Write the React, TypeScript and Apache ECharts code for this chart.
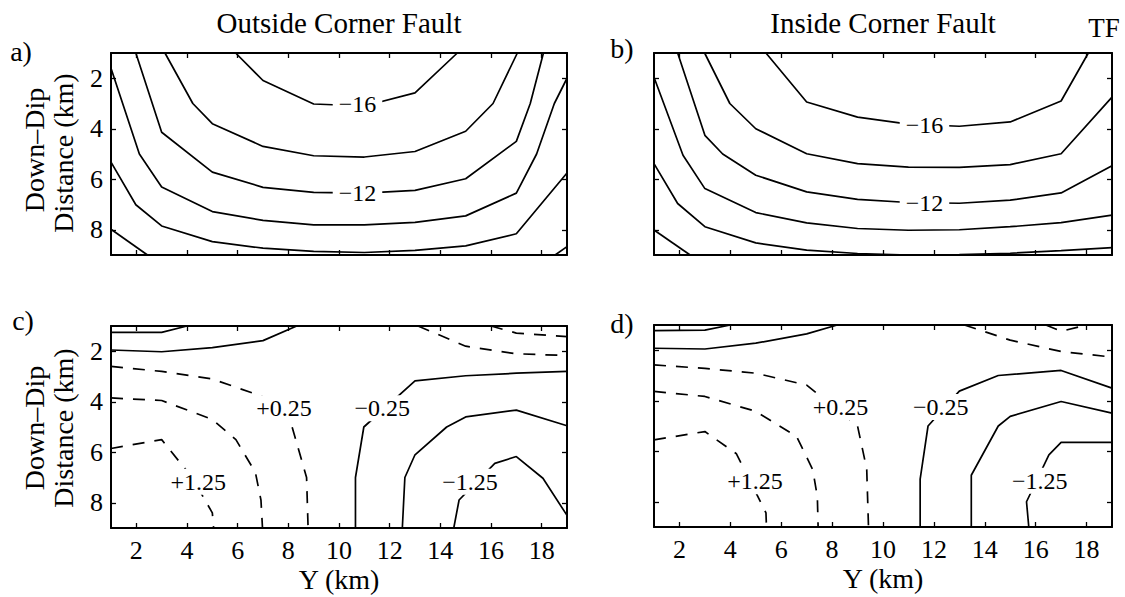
import React, { useEffect, useRef } from "react";
import * as echarts from "echarts";

const FONT = '"Liberation Serif", "Times New Roman", Times, serif';

// Tick values
const X_TICKS = [2, 4, 6, 8, 10, 12, 14, 16, 18];
const Y_TICKS = [2, 4, 6, 8];

// Panel titles
const TITLES = ["Outside Corner Fault", "Inside Corner Fault"];
const PANEL_LETTERS = ["a)", "b)", "c)", "d)"];

// ---- Panel a (Outside corner, total) contour lines [Y km, down-dip km]
const A_M16 = [[5.92, 1], [7, 2.09], [9, 3.02], [11, 3.1], [13, 2.58], [14.67, 1]];
const A_M14 = [[3.13, 1], [4.23, 3], [5, 3.8], [7, 4.7], [9, 5.07], [11, 5.12], [13, 4.9], [15, 4.1], [16.08, 3], [17.04, 1]];
const A_M12 = [[1.98, 1], [3, 4.14], [5, 5.72], [7, 6.32], [9, 6.52], [11, 6.55], [13, 6.44], [15, 5.98], [17, 4.5], [17.55, 3], [18.07, 1]];
const A_M10 = [[1, 1.6], [2.12, 5], [3, 6.31], [5, 7.28], [7, 7.63], [9, 7.81], [11, 7.81], [13, 7.71], [15, 7.45], [17, 6.55], [17.8, 5], [18.5, 3], [19, 2.0]];
const A_M8 = [[1, 5.32], [1.98, 7.01], [3, 7.85], [5, 8.47], [7, 8.73], [9, 8.86], [11, 8.9], [13, 8.82], [15, 8.64], [17, 8.16], [19, 5.75]];
const A_M6L = [[1, 7.98], [2.44, 9]];
const A_M6R = [[18.53, 9], [19, 8.67]];
const A_LABELS = [{ text: "\u221216", at: [10.73, 3.02] }, { text: "\u221212", at: [10.73, 6.55] }];

// ---- Panel b (Inside corner, total)
const B_M16 = [[5.4, 1], [7, 2.94], [9, 3.54], [11, 3.82], [13, 3.9], [15, 3.73], [17, 2.9], [18.07, 1]];
const B_M14 = [[2.99, 1], [3.98, 3], [5, 4.0], [7, 4.99], [9, 5.38], [11, 5.52], [13, 5.53], [15, 5.42], [17, 4.99], [19, 2.75]];
const B_M12 = [[1.93, 1], [3, 4.26], [3.7, 5], [5, 5.84], [7, 6.5], [9, 6.8], [11, 6.92], [13, 6.95], [15, 6.83], [17, 6.54], [19, 5.47]];
const B_M10 = [[1, 1.96], [2.14, 5.05], [3, 6.37], [5, 7.32], [7, 7.73], [9, 7.95], [11, 8.02], [13, 8.0], [15, 7.88], [17, 7.72], [19, 7.42]];
const B_M8 = [[1, 5.38], [1.93, 6.96], [3, 7.88], [5, 8.52], [7, 8.81], [9, 8.94], [11, 9.0], [13, 8.98], [15, 8.93], [17, 8.83], [19, 8.71]];
const B_M6 = [[1, 8.01], [2.42, 9]];
const B_LABELS = [{ text: "\u221216", at: [11.63, 3.87] }, { text: "\u221212", at: [11.63, 6.96] }];

// ---- Panel c (Outside corner, difference)
const C_S1 = [[1, 1.25], [3, 1.25], [4, 1]];
const C_S2 = [[1, 1.95], [3, 2.02], [5, 1.86], [7, 1.58], [8.33, 1]];
const C_M025 = [[10.65, 9], [10.65, 7], [10.98, 5], [13, 3.17], [15, 2.97], [17, 2.87], [19, 2.8]];
const C_M075 = [[12.5, 9], [12.6, 7], [13, 6.1], [14.25, 5], [15, 4.6], [17, 4.33], [19, 4.95]];
const C_M125 = [[14.53, 9], [14.74, 7.89], [16.15, 6.44], [17, 6.17], [18.05, 7.03], [19, 8.5]];
const C_P025 = [[1, 2.6], [3, 2.8], [5, 3.1], [7, 3.8], [8.15, 5], [8.72, 7], [8.78, 9]];
const C_P075 = [[1, 3.85], [3, 3.95], [5, 4.7], [5.93, 5.5], [6.7, 6.8], [6.92, 7.9], [6.98, 9]];
const C_P125 = [[1, 5.85], [3, 5.5], [4.2, 7], [5, 8.4], [5.05, 9]];
const C_PT1 = [[13.12, 1], [15, 1.8], [17, 2.1], [19, 2.17]];
const C_PT2 = [[16, 1], [17, 1.28], [19, 1.42]];
const C_LABELS = [
  { text: "+0.25", at: [7.83, 4.26] },
  { text: "\u22120.25", at: [11.71, 4.26] },
  { text: "+1.25", at: [4.44, 7.17] },
  { text: "\u22121.25", at: [15.17, 7.17] },
];

// ---- Panel d (Inside corner, difference)
const D_S1 = [[1, 1.22], [3, 1.2], [4, 1]];
const D_S2 = [[1, 1.92], [3, 1.95], [5, 1.72], [7, 1.35], [8.2, 1]];
const D_M025 = [[11.46, 9], [11.46, 7.1], [11.77, 5], [13, 3.62], [14.53, 3], [17, 2.8], [19, 3.5]];
const D_M075 = [[13.47, 9], [13.47, 6.95], [14.53, 5], [15, 4.62], [17, 4.03], [19, 4.49]];
const D_M125 = [[15.73, 9], [15.64, 8], [16.52, 6.14], [17, 5.65], [19, 5.65]];
const D_P025 = [[1, 2.58], [3, 2.72], [5, 2.91], [7, 3.38], [9, 5], [9.36, 6.7], [9.43, 9]];
const D_P075 = [[1, 3.63], [3, 3.83], [5, 4.42], [6.6, 5.41], [7.24, 6.73], [7.42, 7.8], [7.45, 9]];
const D_P125 = [[1, 5.55], [3, 5.22], [4.24, 6.1], [5.4, 8.44], [5.42, 9]];
const D_PT1 = [[13.2, 1], [15, 1.6], [17, 2.05], [19, 2.27]];
const D_PT2 = [[16.4, 1], [17, 1.25], [18, 1]];
const D_LABELS = [
  { text: "+0.25", at: [8.33, 4.25] },
  { text: "\u22120.25", at: [12.27, 4.25] },
  { text: "+1.25", at: [4.97, 7.19] },
  { text: "\u22121.25", at: [16.16, 7.17] },
];

const PANELS = [
  { solid: [A_M16, A_M14, A_M12, A_M10, A_M8, A_M6L, A_M6R], dashed: [], labels: A_LABELS },
  { solid: [B_M16, B_M14, B_M12, B_M10, B_M8, B_M6], dashed: [], labels: B_LABELS },
  { solid: [C_S1, C_S2, C_M025, C_M075, C_M125], dashed: [C_P025, C_P075, C_P125, C_PT1, C_PT2], labels: C_LABELS },
  { solid: [D_S1, D_S2, D_M025, D_M075, D_M125], dashed: [D_P025, D_P075, D_P125, D_PT1, D_PT2], labels: D_LABELS },
];

const GRIDS = [
  { left: 111, top: 53, width: 456, height: 202 },
  { left: 654, top: 53, width: 458, height: 202 },
  { left: 111, top: 326, width: 456, height: 202 },
  { left: 654, top: 325, width: 458, height: 202 },
];

function buildOption() {
  const xAxes: any[] = [];
  const yAxes: any[] = [];
  const series: any[] = [];
  const axisLine = { show: true, onZero: false, lineStyle: { color: "#000", width: 2 } };
  const tickStyle = { color: "#000", width: 1.3 };
  GRIDS.forEach((g, i) => {
    const bottomRow = i >= 2;
    const leftCol = i % 2 === 0;
    xAxes.push({
      gridIndex: i, type: "value", min: 1, max: 19, position: "bottom",
      axisLine,
      axisTick: { show: true, inside: true, length: 5, customValues: X_TICKS, lineStyle: tickStyle },
      axisLabel: {
        show: bottomRow, customValues: X_TICKS, margin: 9, color: "#000",
        fontFamily: FONT, fontSize: 26,
      },
      splitLine: { show: false },
      name: bottomRow ? "Y (km)" : "",
      nameLocation: "middle", nameGap: 37,
      nameTextStyle: { color: "#000", fontFamily: FONT, fontSize: 28 },
    });
    xAxes.push({
      gridIndex: i, type: "value", min: 1, max: 19, position: "top",
      axisLine,
      axisTick: { show: true, inside: true, length: 5, customValues: X_TICKS, lineStyle: tickStyle },
      axisLabel: { show: false },
      splitLine: { show: false },
    });
    yAxes.push({
      gridIndex: i, type: "value", min: 1, max: 9, inverse: true, position: "left",
      axisLine,
      axisTick: { show: true, inside: true, length: 5, customValues: Y_TICKS, lineStyle: tickStyle },
      axisLabel: {
        show: leftCol, customValues: Y_TICKS, margin: 8, color: "#000",
        fontFamily: FONT, fontSize: 26,
      },
      splitLine: { show: false },
    });
    yAxes.push({
      gridIndex: i, type: "value", min: 1, max: 9, inverse: true, position: "right",
      axisLine,
      axisTick: { show: true, inside: true, length: 5, customValues: Y_TICKS, lineStyle: tickStyle },
      axisLabel: { show: false },
      splitLine: { show: false },
    });

    const p = PANELS[i];
    const mk = (data: number[][], dashed: boolean) => ({
      type: "line",
      xAxisIndex: 2 * i,
      yAxisIndex: 2 * i,
      data,
      symbol: "none",
      showSymbol: false,
      silent: true,
      z: 2,
      lineStyle: { color: "#000", width: 1.7, type: dashed ? [12, 10] : "solid" },
    });
    p.solid.forEach((d) => series.push(mk(d, false)));
    p.dashed.forEach((d) => series.push(mk(d, true)));
    series.push({
      type: "scatter",
      xAxisIndex: 2 * i,
      yAxisIndex: 2 * i,
      symbol: "circle",
      symbolSize: 0,
      itemStyle: { color: "#000" },
      silent: true,
      z: 5,
      data: p.labels.map((l) => ({ name: l.text, value: l.at })),
      label: {
        show: true, position: "inside", formatter: "{b}", color: "#000",
        fontFamily: FONT, fontSize: 24, backgroundColor: "#fff", padding: [1, 6],
        textBorderWidth: 0, opacity: 1,
      },
    });
  });

  const txt = (text: string, x: number, y: number, size: number, extra: any = {}) => ({
    type: "text", x, y, ...extra,
    style: {
      text, fill: "#000", font: `${size}px ${FONT}`,
      textAlign: "center", textVerticalAlign: "middle",
    },
  });

  const graphic: any[] = [
    txt(TITLES[0], 339, 23, 29),
    txt(TITLES[1], 883, 23, 29),
    txt("TF", 1104, 28, 27),
    txt(PANEL_LETTERS[0], 21, 51, 28),
    txt(PANEL_LETTERS[1], 622, 48, 28),
    txt(PANEL_LETTERS[2], 23, 320, 28),
    txt(PANEL_LETTERS[3], 622, 323, 28),
    txt("Down\u2013Dip", 34, 150, 28, { rotation: Math.PI / 2 }),
    txt("Distance (km)", 63, 153, 28, { rotation: Math.PI / 2 }),
    txt("Down\u2013Dip", 34, 428, 28, { rotation: Math.PI / 2 }),
    txt("Distance (km)", 63, 428, 28, { rotation: Math.PI / 2 }),
  ];

  return {
    animation: false,
    backgroundColor: "#fff",
    grid: GRIDS.map((g) => ({ ...g, containLabel: false })),
    xAxis: xAxes,
    yAxis: yAxes,
    series,
    graphic,
  };
}

export default function App() {
  const ref = useRef<HTMLDivElement>(null);
  useEffect(() => {
    document.body.style.margin = "0";
    if (!ref.current) return;
    const chart = echarts.init(ref.current, null, { renderer: "svg" });
    chart.setOption(buildOption() as any);
    return () => chart.dispose();
  }, []);
  return <div ref={ref} style={{ width: 1125, height: 597, background: "#fff" }} />;
}
